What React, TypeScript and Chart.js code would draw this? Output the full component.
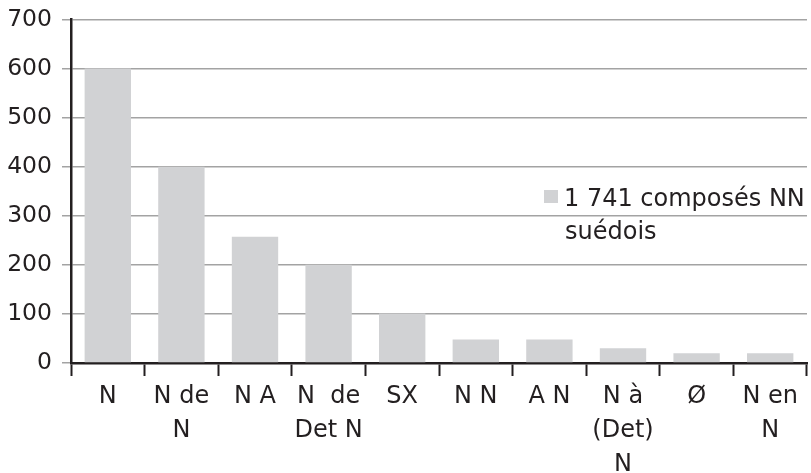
import React, { useEffect, useRef } from "react";
import { Chart, registerables } from "chart.js";

Chart.register(...registerables);

const categories: string[][] = [
  ["N"],
  ["N de", "N"],
  ["N A"],
  ["N  de", "Det N"],
  ["SX"],
  ["N N"],
  ["A N"],
  ["N à", "(Det)", "N"],
  ["Ø"],
  ["N en", "N"],
];
const seriesLabel = "1 741 composés NN suédois";
const legendLines = ["1 741 composés NN", "suédois"];
const values = [600, 400, 257, 200, 101, 48, 48, 30, 20, 20];
const yTicks = [0, 100, 200, 300, 400, 500, 600, 700];

const FONT = "'DejaVu Sans', sans-serif";
const INK = "#231f20";
const BAR = "#d1d2d4";
const GRID = "#a3a3a3";

const legendPlugin = {
  id: "customLegend",
  afterDraw(chart: any) {
    const ctx = chart.ctx;
    const ds = chart.data.datasets[0];
    ctx.save();
    ctx.fillStyle = ds.backgroundColor;
    ctx.fillRect(544, 190, 14, 13);
    ctx.fillStyle = INK;
    ctx.font = `24px ${FONT}`;
    ctx.textBaseline = "alphabetic";
    ctx.textAlign = "left";
    ctx.fillText(legendLines[0], 564, 206);
    ctx.fillText(legendLines[1], 565, 239);
    ctx.restore();
  },
};

export default function App() {
  const ref = useRef<HTMLCanvasElement | null>(null);
  useEffect(() => {
    document.body.style.margin = "0";
    const chart = new Chart(ref.current as HTMLCanvasElement, {
      type: "bar",
      data: {
        labels: categories,
        datasets: [
          {
            label: seriesLabel,
            data: values,
            backgroundColor: BAR,
            barPercentage: 0.63,
            categoryPercentage: 1,
          },
        ],
      },
      options: {
        animation: false,
        responsive: false,
        layout: { padding: { left: 0, right: 4, top: 17, bottom: 0 } },
        plugins: {
          legend: { display: false },
          tooltip: { enabled: false },
        },
        scales: {
          x: {
            offset: true,
            grid: {
              display: true,
              drawOnChartArea: false,
              drawTicks: true,
              tickLength: 13,
              tickWidth: 2,
              tickColor: INK,
            },
            border: { display: true, color: INK, width: 2.5 },
            ticks: {
              color: INK,
              font: { family: FONT, size: 24, lineHeight: 1.42 },
              maxRotation: 0,
              autoSkip: false,
              padding: 4,
            },
            afterFit(scale: any) {
              scale.height = 110;
            },
          },
          y: {
            min: 0,
            max: 700,
            afterBuildTicks(scale: any) {
              scale.ticks = yTicks.map((v) => ({ value: v }));
            },
            grid: {
              color: GRID,
              lineWidth: 1.5,
              drawTicks: true,
              tickLength: 9,
              tickColor: GRID,
            },
            border: { display: true, color: INK, width: 2.5 },
            ticks: {
              color: INK,
              font: { family: FONT, size: 23.5, lineHeight: 0.8 },
              padding: 10,
            },
            afterFit(scale: any) {
              scale.width = 71;
            },
          },
        },
      },
      plugins: [legendPlugin],
    });
    return () => chart.destroy();
  }, []);
  return (
    <div style={{ width: 811, height: 473 }}>
      <canvas ref={ref} width={811} height={473} style={{ display: "block" }} />
    </div>
  );
}
